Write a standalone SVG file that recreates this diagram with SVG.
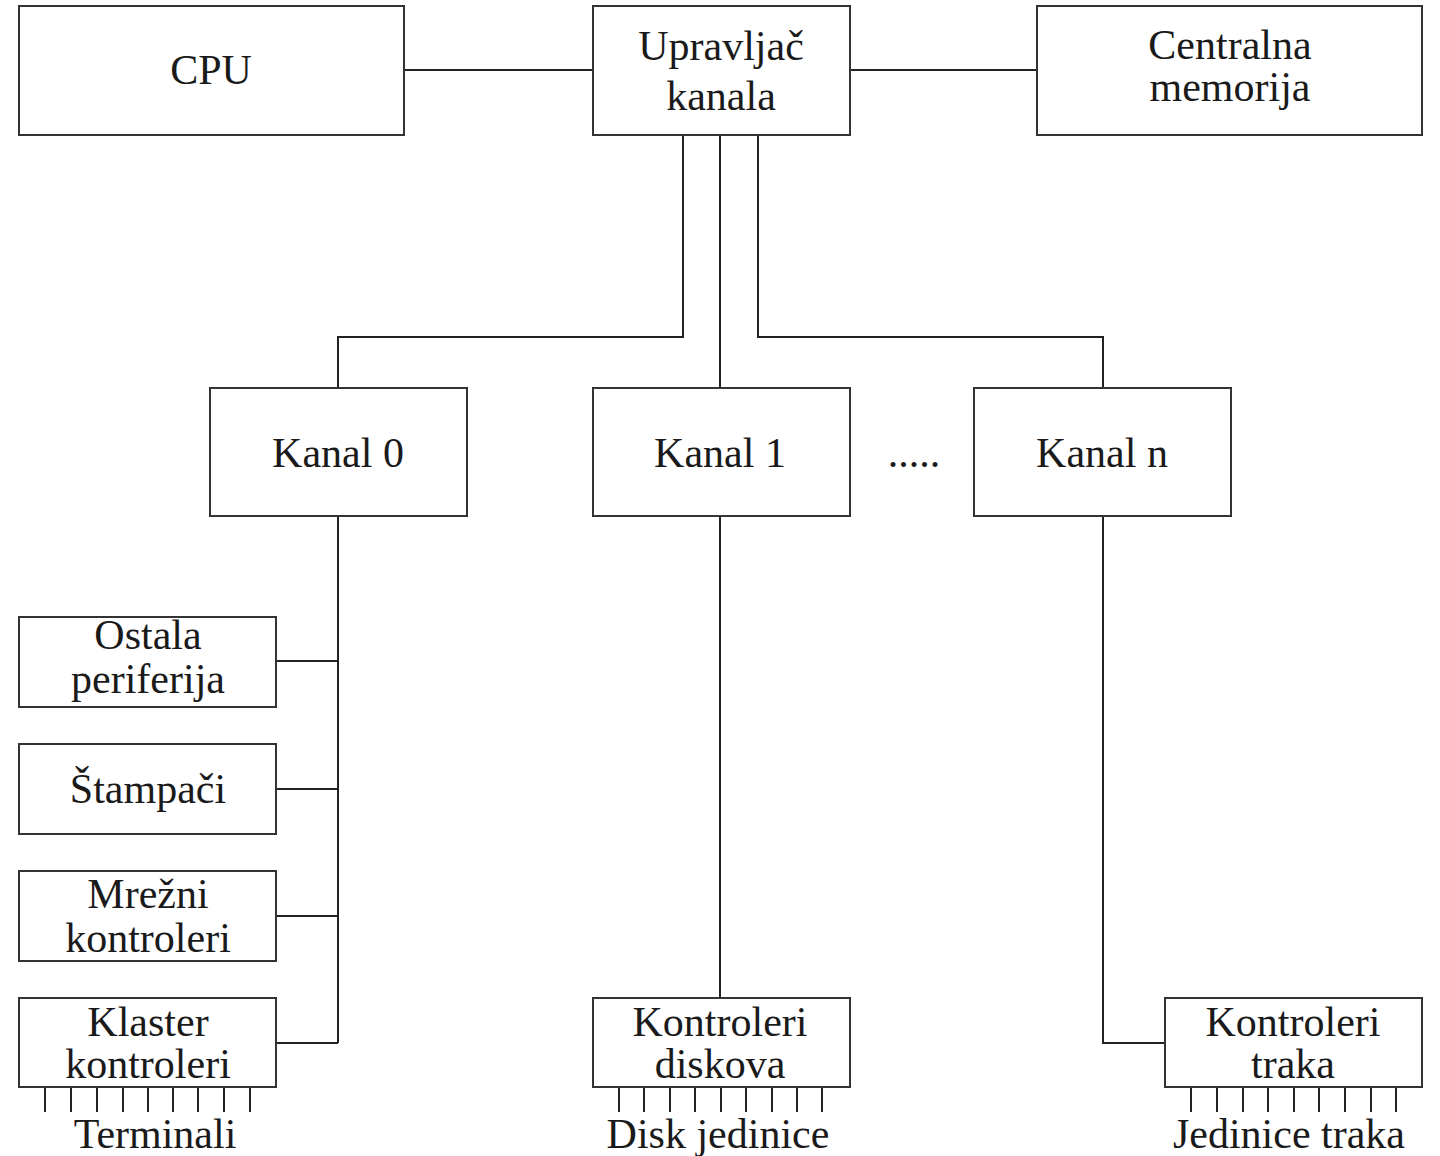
<svg xmlns="http://www.w3.org/2000/svg" width="1440" height="1156" viewBox="0 0 1440 1156">
<style>
.b{fill:#fff;stroke:#333;stroke-width:2}
.c{fill:none;stroke:#222;stroke-width:2}
text{font-family:"Liberation Serif","DejaVu Serif",serif;font-size:42px;fill:#1a1a1a;text-anchor:middle}
</style>
<rect width="1440" height="1156" fill="#fff"/>
<g id="connectors" class="c">
<path d="M404 70H593M850 70H1037"/>
<path d="M683 135V337H338V388M720 135V388M758 135V337H1103V388"/>
<path d="M338 516V1043M276 661H338M276 789H338M276 916H338M276 1043H338"/>
<path d="M720 516V998"/>
<path d="M1103 516V1043H1165"/>
<path d="M45 1087v25M71 1087v25M97 1087v25M123 1087v25M148 1087v25M173 1087v25M198 1087v25M224 1087v25M250 1087v25"/>
<path d="M619 1087v25M644 1087v25M670 1087v25M695 1087v25M721 1087v25M746 1087v25M772 1087v25M797 1087v25M822 1087v25"/>
<path d="M1191 1087v25M1217 1087v25M1243 1087v25M1268 1087v25M1294 1087v25M1319 1087v25M1345 1087v25M1371 1087v25M1396 1087v25"/>
</g>
<g id="cpu"><rect class="b" x="19" y="6" width="385" height="129"/><text x="211" y="84">CPU</text></g>
<g id="upravljac"><rect class="b" x="593" y="6" width="257" height="129"/><text x="721" y="60">Upravljač</text><text x="721" y="110">kanala</text></g>
<g id="memorija"><rect class="b" x="1037" y="6" width="385" height="129"/><text x="1230" y="59">Centralna</text><text x="1230" y="101">memorija</text></g>
<g id="kanal0"><rect class="b" x="210" y="388" width="257" height="128"/><text x="338" y="467">Kanal 0</text></g>
<g id="kanal1"><rect class="b" x="593" y="388" width="257" height="128"/><text x="720" y="467">Kanal 1</text></g>
<g id="dots"><text x="914" y="467">.....</text></g>
<g id="kanaln"><rect class="b" x="974" y="388" width="257" height="128"/><text x="1102" y="467">Kanal n</text></g>
<g id="ostala"><rect class="b" x="19" y="617" width="257" height="90"/><text x="148" y="649">Ostala</text><text x="148" y="693">periferija</text></g>
<g id="stampaci"><rect class="b" x="19" y="744" width="257" height="90"/><text x="148" y="803">Štampači</text></g>
<g id="mrezni"><rect class="b" x="19" y="871" width="257" height="90"/><text x="148" y="908">Mrežni</text><text x="148" y="952">kontroleri</text></g>
<g id="klaster"><rect class="b" x="19" y="998" width="257" height="89"/><text x="148" y="1036">Klaster</text><text x="148" y="1078">kontroleri</text></g>
<g id="diskovi"><rect class="b" x="593" y="998" width="257" height="89"/><text x="720" y="1036">Kontroleri</text><text x="720" y="1078">diskova</text></g>
<g id="trake"><rect class="b" x="1165" y="998" width="257" height="89"/><text x="1293" y="1036">Kontroleri</text><text x="1293" y="1078">traka</text></g>
<g id="terminali"><text x="155" y="1148">Terminali</text></g>
<g id="diskjed"><text x="718" y="1148">Disk jedinice</text></g>
<g id="jedtraka"><text x="1289" y="1148">Jedinice traka</text></g>
</svg>
